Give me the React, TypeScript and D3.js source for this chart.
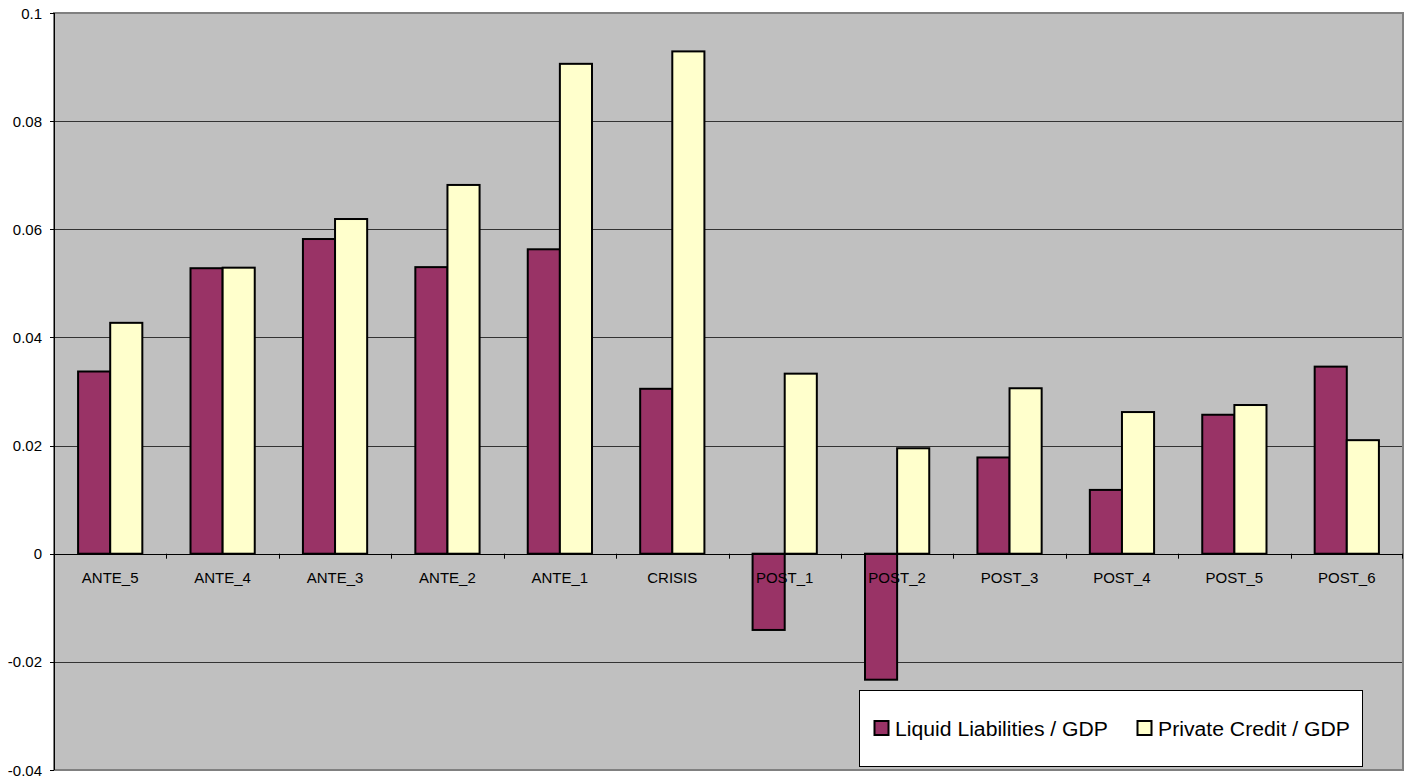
import React from "react";
import * as d3 from "d3";

const categories = ["ANTE_5", "ANTE_4", "ANTE_3", "ANTE_2", "ANTE_1", "CRISIS", "POST_1", "POST_2", "POST_3", "POST_4", "POST_5", "POST_6"];
const seriesNames = ["Liquid Liabilities / GDP", "Private Credit / GDP"];
const liquidLiabilities = [0.0337, 0.0528, 0.0582, 0.0530, 0.0563, 0.0305, -0.0141, -0.0233, 0.0178, 0.0118, 0.0257, 0.0346];
const privateCredit = [0.0427, 0.0529, 0.0619, 0.0682, 0.0906, 0.0929, 0.0333, 0.0195, 0.0306, 0.0262, 0.0275, 0.0210];
const yTicks = [-0.04, -0.02, 0, 0.02, 0.04, 0.06, 0.08, 0.1];
const yTickLabels = ["-0.04", "-0.02", "0", "0.02", "0.04", "0.06", "0.08", "0.1"];

const colors = ["#993366", "#FFFFCC"];

export default function App() {
  const W = 1406, H = 782;
  const left = 54, right = 1403, top = 13, bottom = 770;
  const x = d3.scaleBand<string>().domain(categories).range([left, right]).padding(0);
  const bw = x.bandwidth();
  const barW = bw / 3.5;
  const x1 = d3.scaleBand<string>().domain(seriesNames).range([0.75 * barW, 2.75 * barW]).padding(0);
  const y = d3.scaleLinear().domain([-0.04, 0.1]).range([bottom, top]);
  const y0 = y(0);
  const data = [liquidLiabilities, privateCredit];
  const font = "'Liberation Sans', Arial, sans-serif";

  return (
    <div style={{ position: "fixed", left: 0, top: 0, width: W, height: H, background: "#fff" }}>
      <svg width={W} height={H} style={{ display: "block" }} fontFamily={font}>
        <rect x={left} y={top} width={right - left} height={bottom - top} fill="#C0C0C0" />
        {yTicks.filter(t => t !== 0 && t !== 0.1 && t !== -0.04).map(t => (
          <line key={"g" + t} x1={left} x2={right} y1={Math.round(y(t)) + 0.5} y2={Math.round(y(t)) + 0.5} stroke="#333" strokeWidth={1} />
        ))}
        <rect x={left} y={top} width={right - left} height={bottom - top} fill="none" stroke="#808080" strokeWidth={2} />
        {data.map((vals, si) =>
          vals.map((v, i) => {
            const bx = (x(categories[i]) as number) + (x1(seriesNames[si]) as number);
            const yt = Math.min(y(v), y0);
            const h = Math.abs(y(v) - y0);
            return <rect key={si + "-" + i} x={bx} y={yt} width={x1.bandwidth()} height={h} fill={colors[si]} stroke="#000" strokeWidth={2} />;
          })
        )}
        <line x1={left} x2={right} y1={Math.round(y0) + 0.5} y2={Math.round(y0) + 0.5} stroke="#000" strokeWidth={1} />
        <line x1={left + 0.5} x2={left + 0.5} y1={top} y2={bottom} stroke="#000" strokeWidth={1} />
        {categories.map((c, i) => (
          <line key={"xt" + i} x1={Math.round(x(c) as number) + 0.5} x2={Math.round(x(c) as number) + 0.5} y1={y0} y2={y0 + 5} stroke="#000" strokeWidth={1} />
        ))}
        <line x1={right - 0.5} x2={right - 0.5} y1={y0} y2={y0 + 5} stroke="#000" strokeWidth={1} />
        {yTicks.map((t, i) => (
          <g key={"yt" + i}>
            <line x1={left - 4} x2={left} y1={Math.round(y(t)) + 0.5} y2={Math.round(y(t)) + 0.5} stroke="#000" strokeWidth={1} />
            <text x={42} y={y(t)} textAnchor="end" dominantBaseline="central" fontSize={15} fill="#000">{yTickLabels[i]}</text>
          </g>
        ))}
        {categories.map((c, i) => (
          <text key={"xl" + i} x={(x(c) as number) + bw / 2} y={582.7} textAnchor="middle" fontSize={15} fill="#000">{c}</text>
        ))}
        <rect x={859.5} y={690.5} width={503} height={76} fill="#fff" stroke="#000" strokeWidth={1} />
        <rect x={874.5} y={721} width={14} height={14} fill={colors[0]} stroke="#000" strokeWidth={2} />
        <text x={895} y={735.5} fontSize={20} textLength={213} lengthAdjust="spacingAndGlyphs" fill="#000">{seriesNames[0]}</text>
        <rect x={1137.5} y={721} width={14} height={14} fill={colors[1]} stroke="#000" strokeWidth={2} />
        <text x={1158} y={735.5} fontSize={20} textLength={192} lengthAdjust="spacingAndGlyphs" fill="#000">{seriesNames[1]}</text>
      </svg>
    </div>
  );
}
